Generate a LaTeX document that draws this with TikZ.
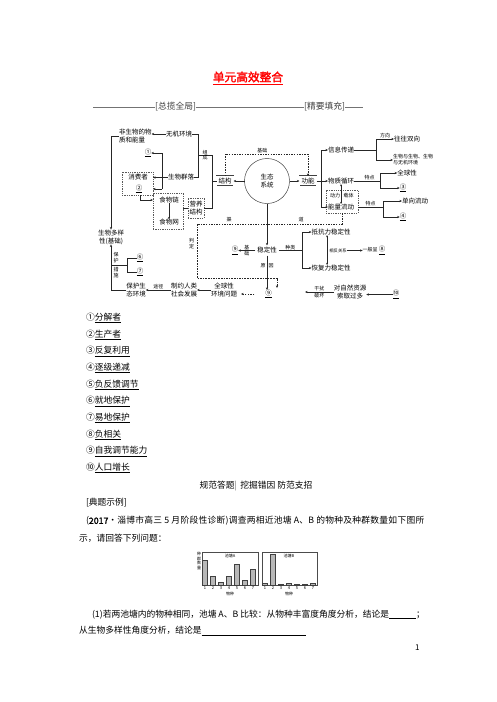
\documentclass[tikz,border=0pt]{standalone}
\usepackage{fontspec}
\setmainfont{Noto Sans CJK SC}
\newfontfamily\titlefont{Noto Sans CJK SC}[FakeBold=2]
\usetikzlibrary{arrows.meta}
\newcommand\un[1]{\underline{#1}}
\begin{document}
\begin{tikzpicture}[x=1pt,y=-1pt,
  every node/.style={inner sep=0pt, outer sep=0pt},
  myt/.tip={Stealth[length=2.6pt,width=2.2pt]},
  txt/.style={font=\fontsize{6.5}{8}\selectfont, align=center},
  lab/.style={font=\fontsize{5}{5.8}\selectfont, align=center},
  sbox/.style={txt, draw=black!75, double=white, double distance=0.7pt, line width=0.3pt, inner xsep=2pt, inner ysep=2pt},
  dbox/.style={draw=black!65, line width=0.35pt, dash pattern=on 1.3pt off 1pt},
  ln/.style={draw=black!85, line width=0.4pt},
  ar/.style={ln, -myt},
  dl/.style={ln, dash pattern=on 1.5pt off 1.1pt},
  body/.style={font=\fontsize{8.75}{10}\selectfont, anchor=west},
  tiny/.style={font=\fontsize{4}{4.6}\selectfont, align=center},
  bar/.style={fill=black!28, draw=black!75, line width=0.3pt}
]
\path[fill=white, use as bounding box] (0,0) rectangle (496,702);

% title and divider
\node[font=\titlefont\fontsize{11.7}{13}\selectfont, text=red] (title) at (248,78) {\un{单元高效整合}};
\node[body, anchor=center, text=black!75] (zl) at (175.5,107) {[总揽全局]};
\node[body, anchor=center, text=black!75] (jy) at (324.5,107) {[精要填充]};
\draw[draw=black!55, line width=0.5pt] (93,107) -- (zl.west);
\draw[draw=black!55, line width=0.5pt] (zl.east) -- (jy.west);
\draw[draw=black!55, line width=0.5pt] (jy.east) -- (363,107);

% ---------- diagram ----------
\node[txt, align=left, anchor=west] (fw) at (119,136) {非生物的物\\质和能量};
\node[txt] (wj) at (179,134) {无机环境};
\draw[ar] (wj.west) -- (wj.west -| fw.east);
\node[txt] (dy) at (111,237) {生物多样\\性(基础)};
\draw[ar] (fw.west) -| (dy.north);

\node[txt] (n1) at (148,153) {\un{①}};
\node[dbox, minimum width=31pt, minimum height=23pt] (xf) at (137.5,183.5) {};
\node[txt] (xfz) at (138,177.5) {消费者};
\node[txt] (n2) at (139,189) {\un{②}};
\node[txt] (swql) at (181,177.5) {生物群落};
\draw[ln] (swql.west) -- (162,177.5);
\draw[ln] (162,153) -- (162,189);
\draw[ar] (162,153) -- (n1.east);
\draw[ar] (162,177.5) -- (xf.east |- xfz);
\draw[ar] (162,189) -- (xf.east |- n2);

\draw[ln] (wj.east) -- (198,134) -- (198,177.5) -- (swql.east);
\draw[ln] (198,155) -- (212,155)
  node[pos=0.5, above=0.6pt, lab] (zc1) {组}
  node[pos=0.5, below=0.6pt, lab] (zc2) {成};

\node[dbox, txt, minimum width=16pt, minimum height=20pt] (yy) at (196,208) {营养\\结构};
\node[dbox, minimum width=30pt, minimum height=36pt] (slbox) at (168,211) {};
\node[txt] (sl) at (169,200) {食物链};
\node[txt] (sw) at (169,222.5) {食物网};
\draw[ar] (sl) -- (sw);
\draw[ar] ([xshift=2.5pt]xf.south) |- (slbox.west |- sl);
\draw[ln] (slbox.east |- yy.west) -- (yy.west);

\node[sbox] (jg) at (225,181) {结构};
\node[draw=black!80, line width=0.45pt, circle, minimum size=45pt, txt] (eco) at (267,181) {生态\\系统};
\node[sbox] (gn) at (308,181) {功能};
\draw[ln] (212,155) -- (212,208) -- (yy.east);
\draw[ln] (212,181) -- (jg.west);
\draw[ar] (eco.west) -- (jg.east);
\draw[ar] (eco.east) -- (gn.west);
\draw[dl, -myt] (jg.north) -- (225,154) -- (308,154) node[pos=0.45, above=1pt, lab] (jc) {基础} -- (gn.north);

% function branches
\node[txt] (xx) at (341,150) {信息传递};
\node[txt] (wz) at (341,181) {物质循环};
\node[txt] (nl) at (341,207) {能量流动};
\node[dbox, minimum width=32pt, minimum height=23pt] (nlbox) at (342,201.5) {};
\draw[ln] (gn.east) -- (321,181);
\draw[ln] (321,150) -- (321,207);
\draw[ar] (321,150) -- (xx.west);
\draw[ar] (321,181) -- (wz.west);
\draw[ar] (321,207) -- (nl.west);
\draw[ln, {Stealth[length=2.2pt,width=1.8pt]}-{Stealth[length=2.2pt,width=1.8pt]}] (wz.south) -- (wz.south |- nl.north);
\node[lab] (dl1) at (335,195.5) {动力};
\node[lab] (zt) at (348.5,195.5) {载体};

\node[txt] (wwsx) at (407,139) {往往双向};
\node[lab, align=left, anchor=west] (swys) at (393,160) {生物与生物、生物\\与无机环境};
\draw[ln] (xx.east) -- (376,150);
\draw[ln] (376,139) -- (376,160);
\draw[ar] (376,139) -- (wwsx.west) node[midway, above=1pt, lab] (fx) {方向};
\draw[ar] (376,160) -- (swys.west);

\node[txt] (qqx) at (407,173) {全球性};
\node[txt] (n3) at (403,188) {\un{③}};
\draw[ln] (wz.east) -- (380,181) node[pos=0.6, above=1pt, lab] (td1) {特点};
\draw[ln] (380,173) -- (380,188);
\draw[ar] (380,173) -- (qqx.west);
\draw[ar] (380,188) -- (n3.west);

\node[txt] (dxld) at (415,201) {单向流动};
\node[txt] (n4) at (403,217) {\un{④}};
\draw[ln] (nlbox.east |- nl) -- (383,207) node[pos=0.5, above=1pt, lab] (td2) {特点};
\draw[ln] (383,201) -- (383,217);
\draw[ar] (383,201) -- (dxld.west);
\draw[ar] (383,217) -- (n4.west);

% channel (dashed)
\coordinate (c9) at (277,288);
\draw[dl, -myt] (nlbox.south) -- (342,224) -- (197,224) -- (197,278) -- (277,278) -- (c9);
\node[lab] (q1l) at (229,220) {渠};
\node[lab] (q2l) at (301,220) {道};
\node[lab] (pd) at (191.5,244) {判\\定};

% stability
\node[sbox] (wdx) at (267,250.5) {稳定性};
\draw[ar] (eco.south) -- (eco.south |- wdx.north);
\node[txt] (n9a) at (235,250.5) {\un{⑨}};
\draw[ar] (wdx.west) -- (n9a.east)
  node[midway, above=0.8pt, lab] (jc1) {基}
  node[midway, below=0.8pt, lab] (jc2) {础};
\node[txt] (kk) at (331,232) {抵抗力稳定性};
\node[txt] (hf) at (331,268) {恢复力稳定性};
\draw[ln] (wdx.east) -- (302,250.5) node[midway, above=1pt, lab] (zl2) {种类};
\draw[ln] (302,232) -- (302,268);
\draw[ar] (302,232) -- (kk.west);
\draw[ar] (302,268) -- (hf.west);
\draw[ln, {Stealth[length=2.2pt,width=1.8pt]}-{Stealth[length=2.2pt,width=1.8pt]}] ([xshift=-4pt]kk.south) -- ([xshift=-4pt]hf.north);
\node[lab, font=\fontsize{4.3}{5}\selectfont] (xfgx) at (338,250.5) {相反关系};
\node[lab] (ybc) at (374,250.5) {一般呈 {\fontsize{6.5}{7}\selectfont\un{⑧}}};
\draw[ar] (xfgx.east) -- (ybc.west);

% bottom row
\node[txt] (n9) at (268.5,294) {\un{⑨}};
\draw[ar] (wdx.south) -- (wdx.south |- n9.north)
  node[pos=0.3, left=1.5pt, lab] (yy1) {原}
  node[pos=0.3, right=1.5pt, lab] (yy2) {因};
\node[txt] (n10) at (396,294.5) {\un{⑩}};
\node[txt] (dz) at (350,292) {对自然资源\\索取过多};
\draw[ar] (n10.west) -- (n10.west -| dz.east);
\coordinate (c305) at (305,292);
\draw[ar] (dz.west) -- (c305)
  node[midway, above=1pt, lab] (gr) {干扰}
  node[midway, below=1pt, lab] (ph) {破坏};
\node[txt] (qq) at (224,290) {全球性\\环境问题};
\draw[dl, -myt, shorten <=11pt, shorten >=4pt] (n9.west) -- (n9.west -| qq.east);
\node[txt] (zy) at (184,290) {制约人类\\社会发展};
\draw[ar] (qq.west) -- (zy.east);
\node[txt] (bh) at (136,290) {保护生\\态环境};
\draw[ar] (zy.west) -- (bh.east) node[midway, above=1pt, lab] (tj) {途径};
\draw[ar] (bh.west) -| (dy.south);

\draw[ln] (111,265) -- (127,265);
\node[lab] (bh1) at (116,257.5) {保\\护};
\node[lab] (cs) at (116,272.5) {措\\施};
\node[txt] (n6) at (140,258) {\un{⑥}};
\node[txt] (n7) at (140,272) {\un{⑦}};
\draw[ln] (127,258) -- (127,272);
\draw[ln] (127,258) -- (n6.west);
\draw[ln] (127,272) -- (n7.west);

% ---------- answer list ----------
\node[body] (l1) at (86,318) {①\un{分解者}};
\node[body] (l2) at (86,335) {②\un{生产者}};
\node[body] (l3) at (86,351.5) {③\un{反复利用}};
\node[body] (l4) at (86,368) {④\un{逐级递减}};
\node[body] (l5) at (86,385) {⑤\un{负反馈调节}};
\node[body] (l6) at (86,401.5) {⑥\un{就地保护}};
\node[body] (l7) at (86,418) {⑦\un{易地保护}};
\node[body] (l8) at (86,435) {⑧\un{负相关}};
\node[body] (l9) at (86,451.5) {⑨\un{自我调节能力}};
\node[body] (l10) at (86,468) {⑩\un{人口增长}};

\node[body, anchor=center] (gf) at (256,486) {规范答题{\color{black!55}|}\, 挖掘错因\ 防范支招};
\node[body] (dt) at (86,503) {[典题示例]};
\node[body] (qa) at (86,521) {\addfontfeatures{LetterSpace=3}({\titlefont 2017}·淄博市高三 5 月阶段性诊断)调查两相近池塘 A、B 的物种及种群数量如下图所};
\node[body] (qb) at (79,538) {示，请回答下列问题：};

% ---------- chart ----------
\draw[line width=0.35pt, draw=black!70] (202,552) rectangle (258,585);
\draw[line width=0.35pt, draw=black!70] (262,552) rectangle (317,585);
\foreach \x/\h in {205/25, 213/9, 221/2.7, 229/9, 237/21, 245/5, 253/16}
  \draw[bar] (\x-2.5,585) rectangle (\x+2.5,585-\h);
\foreach \x/\h in {265/2, 273/31, 281/0.8, 289/1.5, 297/0.5, 305/1, 313/2}
  \draw[bar] (\x-2.5,585) rectangle (\x+2.5,585-\h);
\foreach \x [count=\i] in {205,213,221,229,237,245,253}
  \node[tiny] (ta\i) at (\x,588.5) {\i};
\foreach \x [count=\i] in {265,273,281,289,297,305,313}
  \node[tiny] (tb\i) at (\x,588.5) {\i};
\node[tiny] (cta) at (230,555.5) {池塘A};
\node[tiny] (ctb) at (289,555.5) {池塘B};
\node[tiny] (wza) at (230,593.5) {物种};
\node[tiny] (wzb) at (289,593.5) {物种};
\node[tiny] (ylab) at (199,561) {种\\群\\数\\量};

% ---------- question ----------
\node[body] (q1) at (92,615) {(1)若两池塘内的物种相同，池塘 A、B 比较：从物种丰富度角度分析，结论是\rule[-1.5pt]{27pt}{0.9pt}；};
\node[body] (q1b) at (79,631) {从生物多样性角度分析，结论是\rule[-1.5pt]{105pt}{0.9pt}};
\node[body, font=\fontsize{8}{9}\selectfont] (pg) at (415,648) {1};
\end{tikzpicture}
\end{document}
